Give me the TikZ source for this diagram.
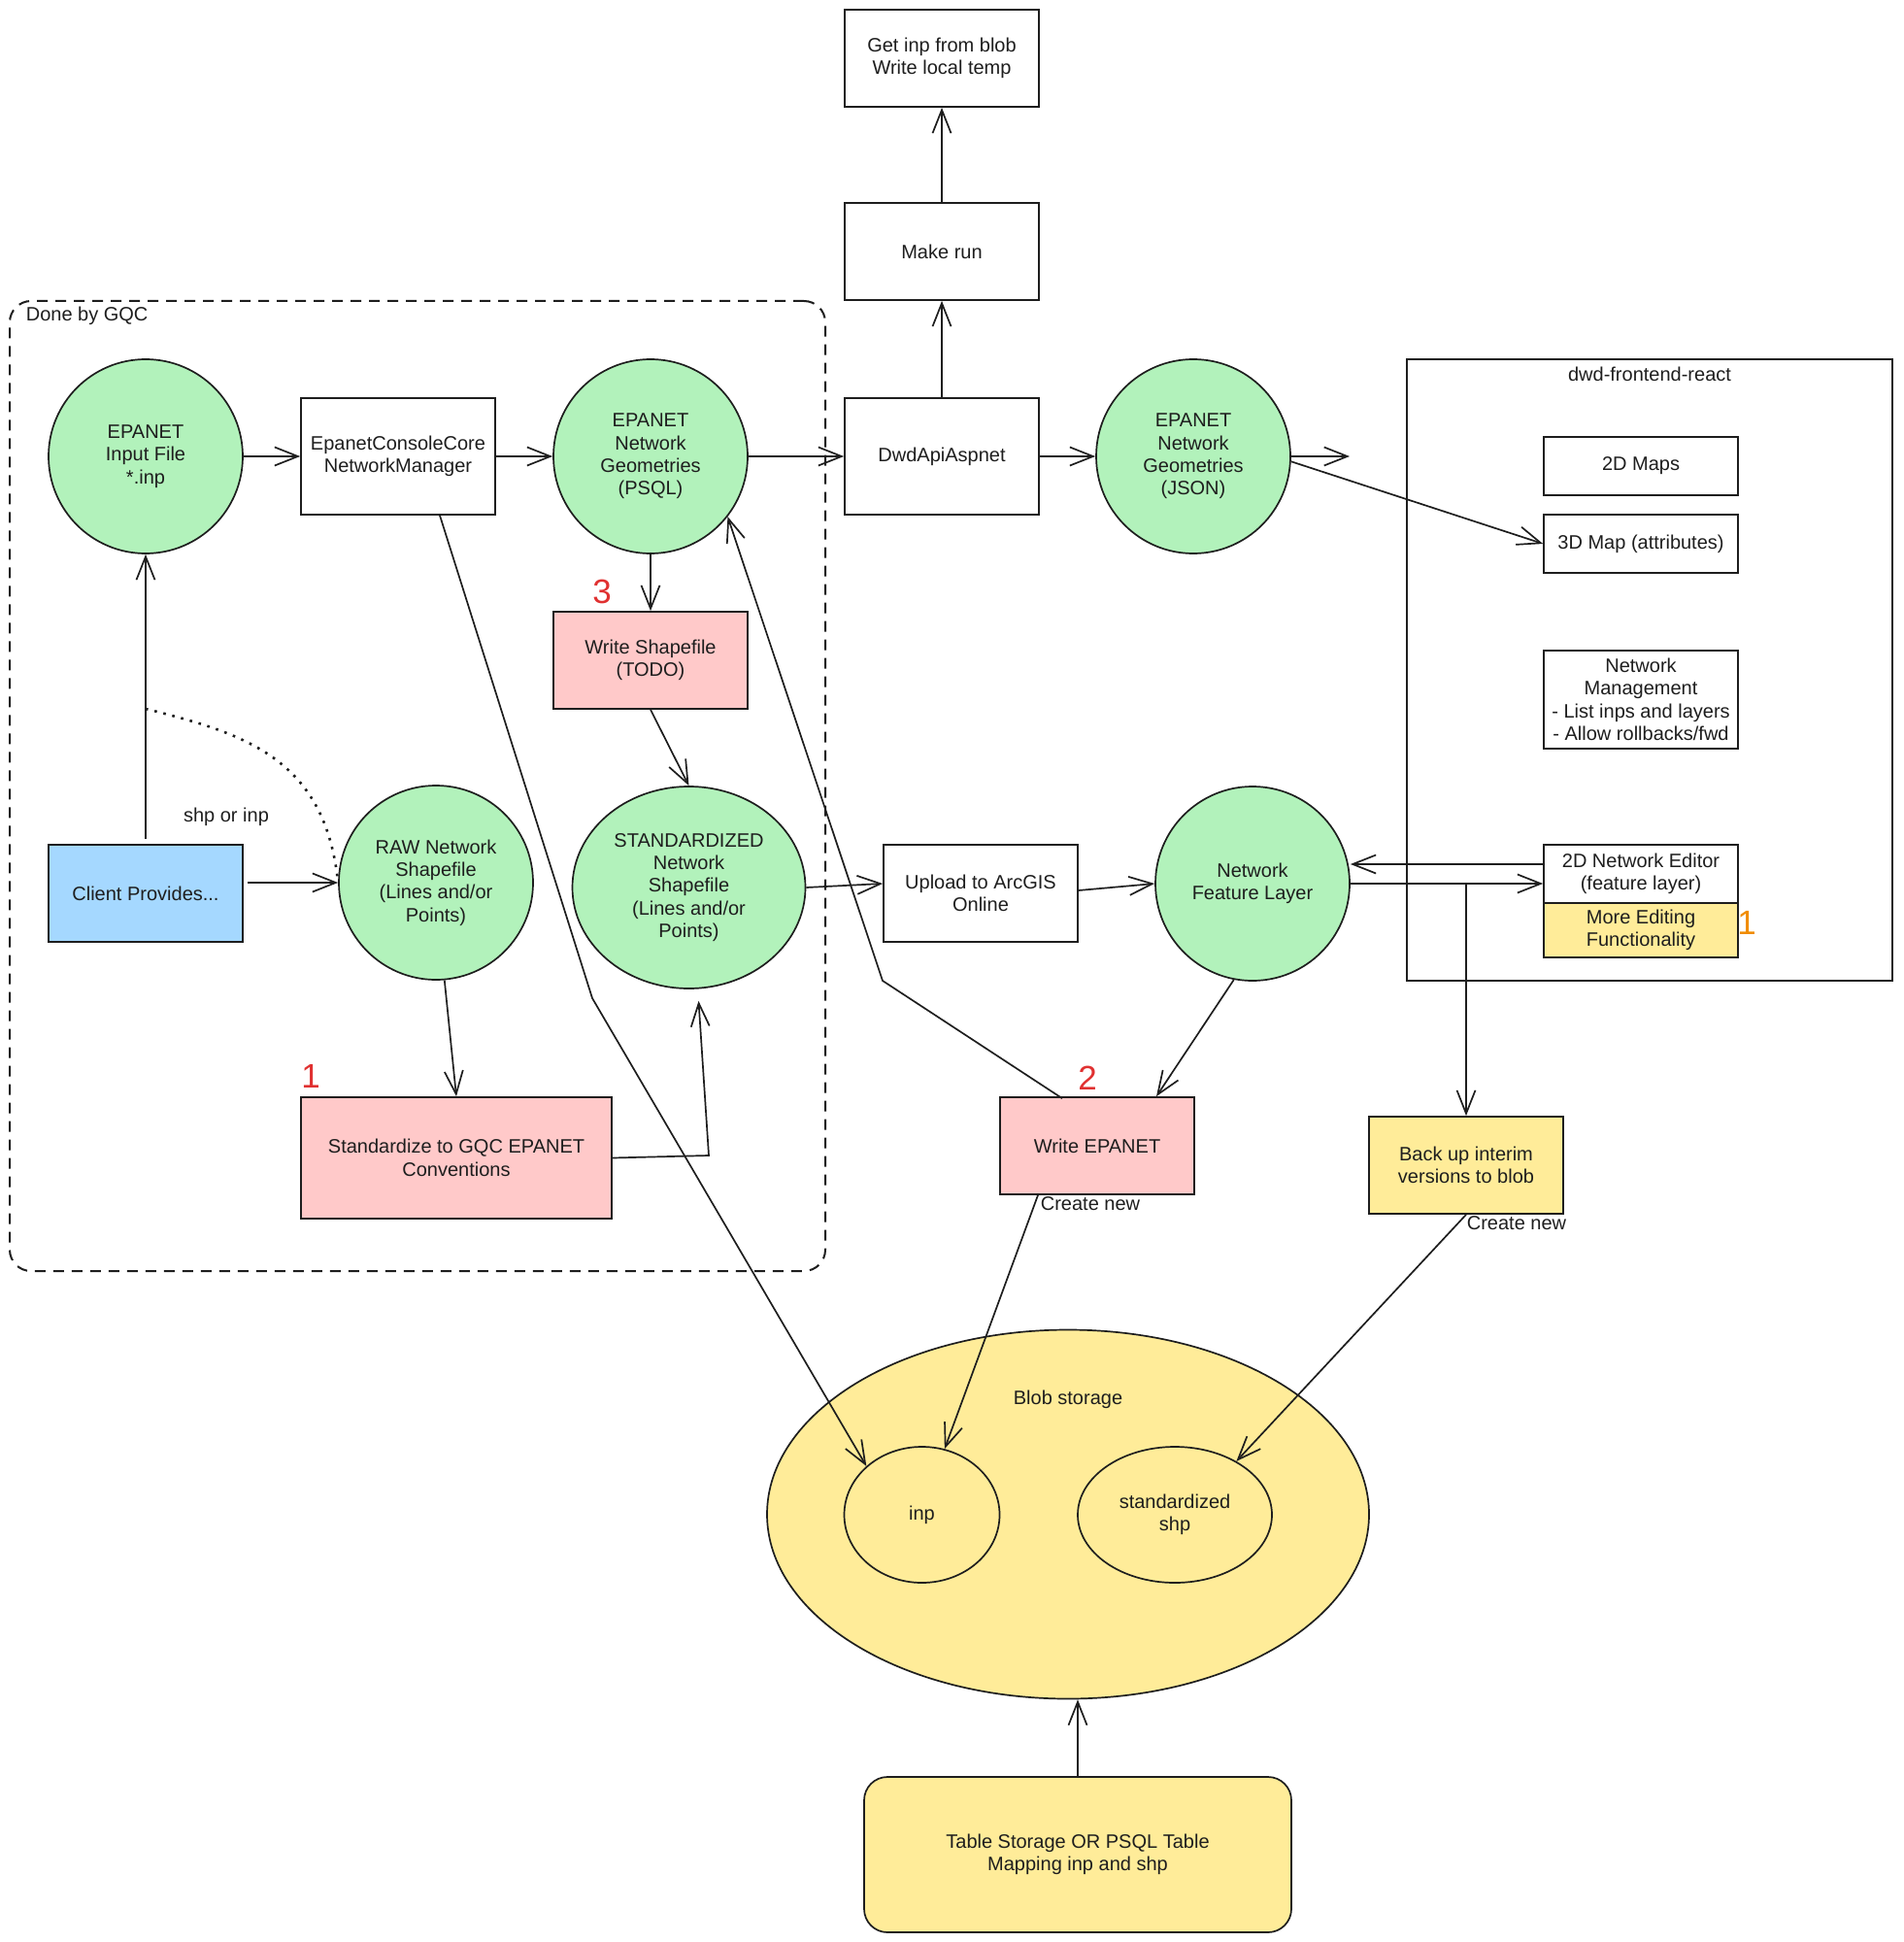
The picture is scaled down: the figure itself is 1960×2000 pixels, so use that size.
\documentclass[tikz,border=0pt]{standalone}
\usepackage{fontspec}
\setmainfont{Liberation Sans}
\usetikzlibrary{arrows.meta,shapes.geometric,calc}
\definecolor{ink}{HTML}{1E1E1E}
\definecolor{gfill}{HTML}{B2F2BB}
\definecolor{pfill}{HTML}{FFC9C9}
\definecolor{bfill}{HTML}{A5D8FF}
\definecolor{yfill}{HTML}{FFEC99}
\definecolor{rednum}{HTML}{E03131}
\definecolor{orangenum}{HTML}{F08C00}
\begin{document}
\begin{tikzpicture}[x=0.5pt,y=-0.5pt,line width=0.85pt,color=ink,
  font=\fontsize{10pt}{11.7pt}\selectfont,
  box/.style={draw,rectangle,minimum width=100pt,minimum height=50pt,inner sep=0pt,align=center,fill=white},
  circ/.style={draw,circle,minimum size=100pt,inner sep=0pt,align=center,fill=gfill},
  ell/.style={draw,ellipse,inner sep=0pt,align=center},
  arr/.style={-{Straight Barb[length=12pt,width=9.5pt]}},
  num/.style={inner sep=0pt,font=\fontsize{17.5pt}{20pt}\selectfont},
  lbl/.style={inner sep=0pt},
  dotline/.style={line width=1.3pt,dash pattern=on 1.3pt off 3.4pt}]
\useasboundingbox (0,0) rectangle (1960,2000);

% containers
\node[draw,rectangle,rounded corners=11pt,line width=1pt,dash pattern=on 5.5pt off 4pt,minimum width=420pt,minimum height=499.5pt,inner sep=0pt] (gqc) at (430,809.5) {};
\node[lbl,anchor=west] (gqclbl) at (26,325) {Done by GQC};
\node[draw,rectangle,minimum width=250pt,minimum height=320pt,inner sep=0pt] (front) at (1699,690) {};
\node[lbl] (frontlbl) at (1699,385) {dwd-frontend-react};

% top column
\node[box] (getinp) at (970,60) {Get inp from blob\\Write local temp};
\node[box] (makerun) at (970,259) {Make run};
\node[box,minimum height=60pt] (dwd) at (970,470) {DwdApiAspnet};

% row 1
\node[circ] (input) at (150,470) {EPANET\\Input File\\*.inp};
\node[box,minimum height=60pt] (console) at (410,470) {EpanetConsoleCore\\NetworkManager};
\node[circ] (psql) at (670,470) {EPANET\\Network\\Geometries\\(PSQL)};
\node[circ] (json) at (1229,470) {EPANET\\Network\\Geometries\\(JSON)};

\node[box,fill=pfill] (writeshp) at (670,680) {Write Shapefile\\(TODO)};
\node[num,text=rednum] (n3) at (620,609) {3};

% row 2
\node[box,fill=bfill] (client) at (150,920) {Client Provides...};
\node[lbl] (shplbl) at (233,841) {shp or inp};
\node[circ] (raw) at (449,909) {RAW Network\\Shapefile\\(Lines and/or\\Points)};
\node[ell,fill=gfill,minimum width=120pt,minimum height=104pt] (std) at (709.5,914) {STANDARDIZED\\Network\\Shapefile\\(Lines and/or\\Points)};
\node[box] (upload) at (1010,920) {Upload to ArcGIS\\Online};
\node[circ] (feat) at (1290,910) {Network\\Feature Layer};

\node[box,fill=pfill,minimum width=160pt,minimum height=62.5pt] (stdz) at (470,1192.5) {Standardize to GQC EPANET\\Conventions};
\node[num,text=rednum] (n1a) at (320,1108) {1};

% frontend boxes
\node[box,minimum height=30pt] (map2d) at (1690,480) {2D Maps};
\node[box,minimum height=30pt] (map3d) at (1690,560) {3D Map (attributes)};
\node[box,minimum height=50.5pt] (netmgmt) at (1690,720.5) {Network\\Management\\- List inps and layers\\- Allow rollbacks/fwd};
\node[box,minimum height=30pt] (editor) at (1690,900) {2D Network Editor\\(feature layer)};
\node[box,fill=yfill,minimum height=28pt] (moreedit) at (1690,958) {More Editing\\Functionality};
\node[num,text=orangenum] (n1b) at (1799,950) {1};

% lower
\node[box,fill=pfill] (wepanet) at (1130,1180) {Write EPANET};
\node[num,text=rednum] (n2) at (1120,1110) {2};
\node[lbl,anchor=west] (cn1) at (1071,1240) {Create new};
\node[box,fill=yfill] (backup) at (1510,1200) {Back up interim\\versions to blob};
\node[lbl,anchor=west] (cn2) at (1510,1260) {Create new};

\node[ell,fill=yfill,minimum width=310pt,minimum height=190pt] (blob) at (1100,1559.5) {};
\node[lbl] (bloblbl) at (1100,1441) {Blob storage};
\node[ell,fill=yfill,minimum width=80pt,minimum height=70pt] (inpe) at (949.5,1560) {inp};
\node[ell,fill=yfill,minimum width=100pt,minimum height=70pt] (shpe) at (1210,1560) {standardized\\shp};
\node[draw,fill=yfill,rounded corners=12pt,minimum width=220pt,minimum height=80pt,align=center,inner sep=0pt] (table) at (1110,1910) {Table Storage OR PSQL Table\\Mapping inp and shp};

% connectors
\draw[arr] (input.east) -- (console.west);
\draw[arr] (console.east) -- (psql.west);
\draw[arr] (psql.east) -- (dwd.west);
\draw[arr] (dwd.east) -- (json.west);
\coordinate (jsonend) at (1390,470);
\draw[arr] (json.east) -- (jsonend);
\draw[arr] (json.-3) -- (map3d.west);
\draw[arr] (dwd.north) -- (makerun.south);
\draw[arr] (makerun.north) -- (getinp.south);
\draw[arr] (psql.south) -- (writeshp.north);
\draw[arr] (writeshp.south) -- (std.north);
\draw[arr,shorten <=2.5pt] (client.north) -- (input.south);
\draw[arr,shorten <=2pt] (client.east |- raw.west) -- (raw.west);
\coordinate (dotstart) at (150,730);
\draw[dotline] (dotstart) .. controls (250,755) and (335,780) .. (raw.west);
\draw[arr] (raw.-85) -- (stdz.north);
\coordinate (bend1) at (730,1190);
\coordinate (stdtip) at ($(std.south)+(10,12)$);
\draw[arr] (stdz.east) -- (bend1) -- (stdtip);
\coordinate (cstart) at ($(console.south)+(43,0)$);
\coordinate (cbend) at (610,1028);
\draw[arr] (cstart) -- (cbend) -- (inpe.north west);
\coordinate (wstart) at ($(wepanet.north)+(-36,2)$);
\coordinate (wbend) at (909,1010);
\draw[arr] (wstart) -- (wbend) -- (psql.-38);
\draw[arr] (feat.-101) -- ($(wepanet.north)+(61,0)$);
\draw[arr] ($(wepanet.south)+(-61,0)$) -- (inpe.71);
\draw[arr] (std.east) -- ($(upload.west)+(0,-10)$);
\draw[arr] ($(upload.east)+(0,-3)$) -- (feat.west);
\coordinate (edl) at ($(editor.west)+(0,-10)$);
\draw[arr] (edl) -- (edl -| feat.east);
\draw[arr] (feat.east) -- (feat.east -| editor.west);
\coordinate (junc) at (backup.north |- feat.east);
\draw[arr] (junc) -- (backup.north);
\draw[arr] (backup.south) -- (shpe.41);
\draw[arr] (table.north) -- (table.north |- blob.south);
\end{tikzpicture}
\end{document}
